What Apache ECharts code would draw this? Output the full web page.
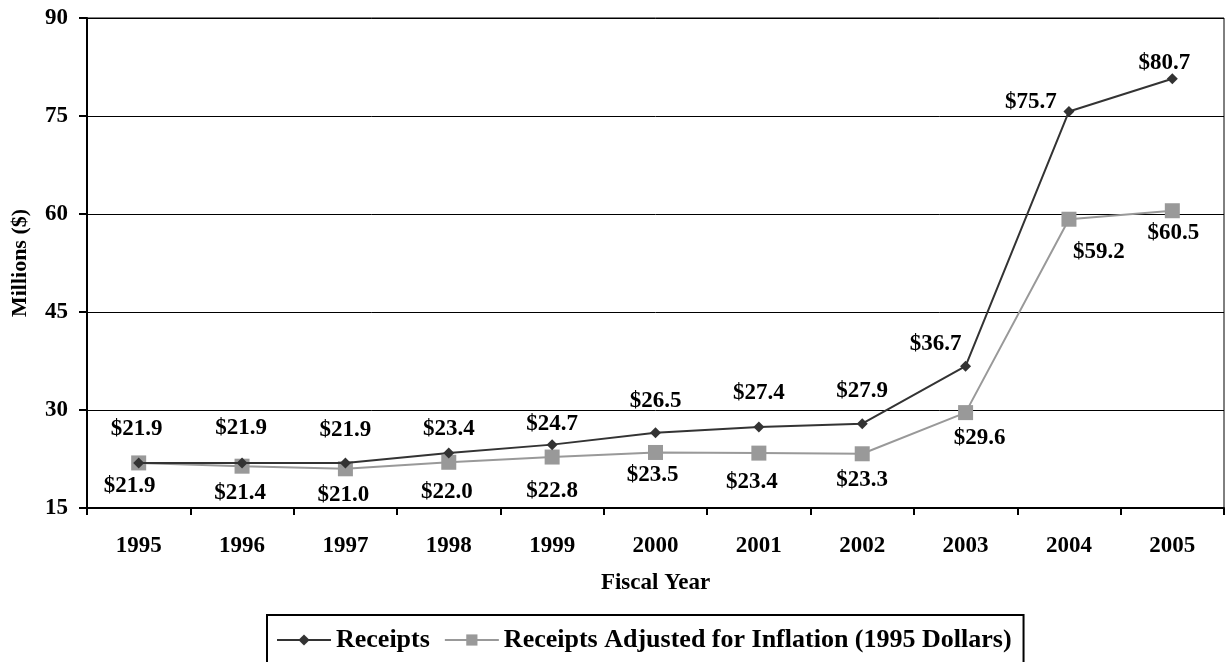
<!DOCTYPE html>
<html><head><meta charset="utf-8">
<script src="https://cdn.jsdelivr.net/npm/echarts@6/dist/echarts.min.js"></script>
<style>html,body{margin:0;padding:0;background:#fff}#c{width:1225px;height:662px}</style>
</head><body><div id="c"></div>
<script>
const years = ['1995','1996','1997','1998','1999','2000','2001','2002','2003','2004','2005'];
const receipts = [21.9,21.9,21.9,23.4,24.7,26.5,27.4,27.9,36.7,75.7,80.7];
const adjusted = [21.9,21.4,21.0,22.0,22.8,23.5,23.4,23.3,29.6,59.2,60.5];
const yTicks = [15,30,45,60,75,90];

const F = '"Liberation Serif","Times New Roman",serif';
// label placement tweaks (by index), kept separate from data: offset of label centre from the point
const recOff = {0:[-2,-34],1:[-1,-35],2:[0,-33],3:[0,-24],4:[0,-21],5:[0,-32],6:[0,-34],7:[0,-33],8:[-30,-22],9:[-38,-9],10:[-8,-16]};
const adjOff = {0:[-9,23],1:[-2,27],2:[-2,26],3:[-2,30],4:[0,34],5:[-3,23],6:[-7,29],7:[0,26],8:[14,25],9:[30,33],10:[1,22]};

function mk(vals, off){
  return vals.map((v,i)=>({value:v,label:{position:'inside',offset:off[i]||[0,0]}}));
}
const lbl = {show:true,formatter:p=>'$'+p.value.toFixed(1),fontFamily:F,fontWeight:'bold',fontSize:23,color:'#000'};
const chart = echarts.init(document.getElementById('c'));
chart.setOption({
  animation:false,
  textStyle:{fontFamily:F},
  grid:{left:87,right:1,top:18,bottom:154,show:true,borderColor:'#000',borderWidth:1,containLabel:false,outerBoundsMode:'none'},
  xAxis:{type:'category',data:years,boundaryGap:true,
    name:'Fiscal Year',nameLocation:'middle',nameGap:64,
    nameTextStyle:{fontFamily:F,fontWeight:'bold',fontSize:23,color:'#000'},
    axisLine:{lineStyle:{color:'#000',width:2}},
    axisTick:{show:true,length:7,lineStyle:{color:'#000',width:2}},
    axisLabel:{fontFamily:F,fontWeight:'bold',fontSize:23,color:'#000',margin:27}},
  yAxis:{type:'value',min:yTicks[0],max:yTicks[yTicks.length-1],interval:15,
    name:'Millions ($)',nameLocation:'middle',nameGap:56,
    nameTextStyle:{fontFamily:F,fontWeight:'bold',fontSize:22,color:'#000'},
    axisLine:{show:true,lineStyle:{color:'#000',width:2}},
    axisTick:{show:true,length:8,lineStyle:{color:'#000',width:2}},
    axisLabel:{fontFamily:F,fontWeight:'bold',fontSize:23,color:'#000',margin:19},
    splitLine:{lineStyle:{color:'#000',width:1}}},
  legend:{top:615,left:267,itemGap:14,itemWidth:54,itemHeight:14,
    borderColor:'#000',borderWidth:2,padding:[12,12,14,9],
    textStyle:{fontFamily:F,fontWeight:'bold',fontSize:26,color:'#000'},
    data:['Receipts','Receipts Adjusted for Inflation (1995 Dollars)']},
  series:[
    {name:'Receipts',type:'line',data:mk(receipts,recOff),
     symbol:'diamond',symbolSize:11,z:3,
     lineStyle:{color:'#333',width:2},itemStyle:{color:'#333'},label:lbl},
    {name:'Receipts Adjusted for Inflation (1995 Dollars)',type:'line',data:mk(adjusted,adjOff),
     symbol:'rect',symbolSize:15,z:2,
     lineStyle:{color:'#999',width:2},itemStyle:{color:'#999'},label:lbl}
  ]
});
</script></body></html>
